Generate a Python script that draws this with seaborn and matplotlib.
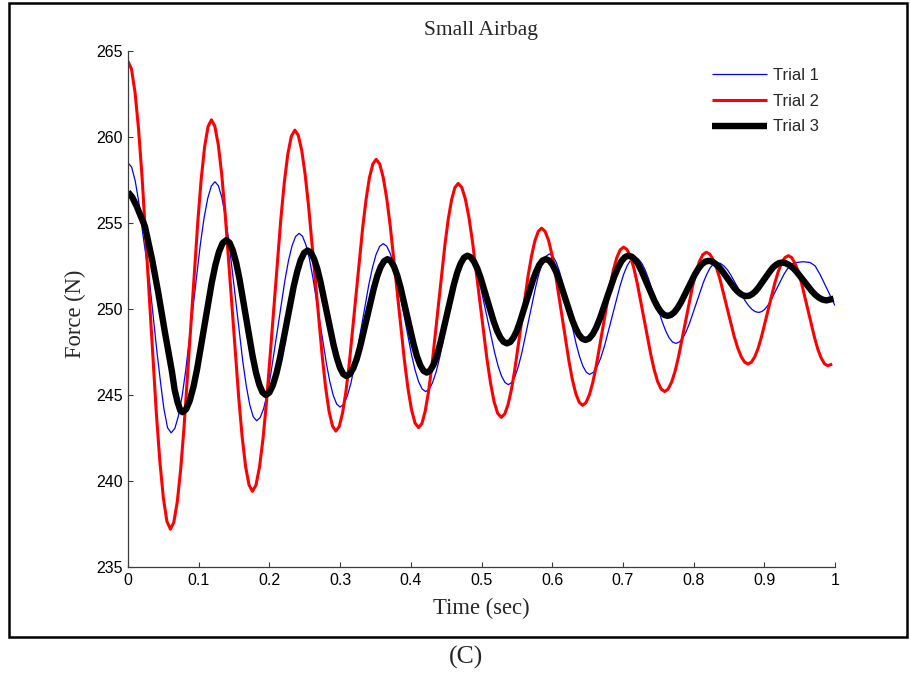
import matplotlib
matplotlib.use("Agg")
import matplotlib.pyplot as plt
from matplotlib.patches import Rectangle
import pandas as pd
import seaborn as sns

# ---- measured force traces (time in s, force in N) ----
time_trial1 = [
    0.000, 0.0051, 0.0102, 0.0153, 0.0203, 0.0305, 0.0407, 0.0458, 0.0508, 0.0559,
    0.061, 0.0662, 0.0713, 0.0765, 0.0817, 0.092, 0.1023, 0.1075, 0.1127, 0.1178,
    0.123, 0.1279, 0.1328, 0.1378, 0.1427, 0.1525, 0.1623, 0.1673, 0.1722, 0.1771,
    0.182, 0.187, 0.192, 0.197, 0.202, 0.212, 0.222, 0.227, 0.232, 0.237,
    0.242, 0.2468, 0.2517, 0.2565, 0.2613, 0.271, 0.2807, 0.2855, 0.2903, 0.2952,
    0.300, 0.3051, 0.3102, 0.3153, 0.3203, 0.3305, 0.3407, 0.3458, 0.3508, 0.3559,
    0.361, 0.366, 0.371, 0.376, 0.381, 0.391, 0.401, 0.406, 0.411, 0.416,
    0.421, 0.4259, 0.4308, 0.4358, 0.4407, 0.4505, 0.4603, 0.4653, 0.4702, 0.4751,
    0.480, 0.4848, 0.4897, 0.4945, 0.4993, 0.509, 0.5187, 0.5235, 0.5283, 0.5332,
    0.538, 0.5428, 0.5477, 0.5525, 0.5573, 0.567, 0.5767, 0.5815, 0.5863, 0.5912,
    0.596, 0.6008, 0.6055, 0.6103, 0.615, 0.6245, 0.634, 0.6388, 0.6435, 0.6483,
    0.653, 0.6583, 0.6637, 0.669, 0.6743, 0.685, 0.6957, 0.701, 0.7063, 0.7117,
    0.717, 0.7218, 0.7267, 0.7315, 0.7363, 0.746, 0.7557, 0.7605, 0.7653, 0.7702,
    0.775, 0.7798, 0.7847, 0.7895, 0.7943, 0.804, 0.8137, 0.8185, 0.8233, 0.8282,
    0.833, 0.8379, 0.8428, 0.8478, 0.8527, 0.8625, 0.8723, 0.8773, 0.8822, 0.8871,
    0.892, 0.8964, 0.9008, 0.9053, 0.9097, 0.9185, 0.9273, 0.9318, 0.9362, 0.9406,
    0.945, 0.955, 0.965, 0.972, 0.979, 0.986, 0.993, 1.000,
]
force_trial1 = [
    258.5, 258.25, 257.45, 256.2, 254.57, 251.6, 247.6, 245.8, 244.2, 243.1,
    242.8, 243.05, 243.78, 244.93, 246.45, 250.1, 253.75, 255.27, 256.42, 257.15,
    257.4, 257.16, 256.47, 255.37, 253.92, 250.45, 246.97, 245.53, 244.43, 243.74,
    243.5, 243.69, 244.23, 245.09, 246.23, 248.95, 251.68, 252.81, 253.67, 254.21,
    254.4, 254.23, 253.72, 252.93, 251.87, 249.35, 246.82, 245.77, 244.98, 244.47,
    244.3, 244.46, 244.94, 245.69, 246.68, 249.05, 251.43, 252.41, 253.16, 253.64,
    253.8, 253.65, 253.22, 252.54, 251.65, 249.5, 247.35, 246.46, 245.78, 245.35,
    245.2, 245.33, 245.72, 246.34, 247.15, 249.1, 251.05, 251.86, 252.48, 252.87,
    253.0, 252.87, 252.5, 251.92, 251.15, 249.3, 247.45, 246.68, 246.1, 245.73,
    245.6, 245.73, 246.11, 246.71, 247.5, 249.4, 251.3, 252.09, 252.69, 253.07,
    253.2, 253.08, 252.73, 252.18, 251.45, 249.7, 247.95, 247.22, 246.67, 246.32,
    246.2, 246.32, 246.66, 247.19, 247.9, 249.6, 251.3, 252.01, 252.54, 252.88,
    253.0, 252.91, 252.66, 252.27, 251.75, 250.5, 249.25, 248.73, 248.33, 248.08,
    248.0, 248.08, 248.31, 248.69, 249.18, 250.35, 251.53, 252.01, 252.39, 252.62,
    252.7, 252.65, 252.51, 252.28, 251.97, 251.25, 250.52, 250.22, 249.99, 249.85,
    249.8, 249.85, 249.99, 250.22, 250.53, 251.25, 251.98, 252.28, 252.51, 252.65,
    252.7, 252.75, 252.7, 252.5, 252.0, 251.4, 250.8, 250.2,
]

time_trial2 = [
    0.000, 0.005, 0.010, 0.015, 0.020, 0.030, 0.040, 0.045, 0.050, 0.055,
    0.060, 0.0648, 0.0697, 0.0745, 0.0793, 0.089, 0.0987, 0.1035, 0.1083, 0.1132,
    0.118, 0.1228, 0.1277, 0.1325, 0.1373, 0.147, 0.1567, 0.1615, 0.1663, 0.1712,
    0.176, 0.181, 0.186, 0.191, 0.196, 0.206, 0.216, 0.221, 0.226, 0.231,
    0.236, 0.2408, 0.2457, 0.2505, 0.2553, 0.265, 0.2747, 0.2795, 0.2843, 0.2892,
    0.294, 0.2988, 0.3035, 0.3083, 0.313, 0.3225, 0.332, 0.3368, 0.3415, 0.3463,
    0.351, 0.356, 0.361, 0.366, 0.371, 0.381, 0.391, 0.396, 0.401, 0.406,
    0.411, 0.4157, 0.4203, 0.425, 0.4297, 0.439, 0.4483, 0.453, 0.4577, 0.4623,
    0.467, 0.4721, 0.4772, 0.4823, 0.4873, 0.4975, 0.5077, 0.5128, 0.5178, 0.5229,
    0.528, 0.5328, 0.5375, 0.5423, 0.547, 0.5565, 0.566, 0.5708, 0.5755, 0.5803,
    0.585, 0.5898, 0.5947, 0.5995, 0.6043, 0.614, 0.6237, 0.6285, 0.6333, 0.6382,
    0.643, 0.6478, 0.6527, 0.6575, 0.6623, 0.672, 0.6817, 0.6865, 0.6913, 0.6962,
    0.701, 0.7058, 0.7107, 0.7155, 0.7203, 0.730, 0.7397, 0.7445, 0.7493, 0.7542,
    0.759, 0.7639, 0.7688, 0.7738, 0.7787, 0.7885, 0.7983, 0.8033, 0.8082, 0.8131,
    0.818, 0.8229, 0.8278, 0.8328, 0.8377, 0.8475, 0.8573, 0.8623, 0.8672, 0.8721,
    0.877, 0.8818, 0.8865, 0.8913, 0.896, 0.9055, 0.915, 0.9198, 0.9245, 0.9293,
    0.934, 0.9387, 0.9433, 0.948, 0.9527, 0.962, 0.9713, 0.976, 0.9807, 0.9853,
    0.990, 0.996,
]
force_trial2 = [
    264.4, 263.94, 262.58, 260.43, 257.6, 250.8, 244.0, 241.17, 239.02, 237.66,
    237.2, 237.6, 238.79, 240.67, 243.15, 249.1, 255.05, 257.53, 259.41, 260.6,
    261.0, 260.63, 259.55, 257.85, 255.6, 250.2, 244.8, 242.55, 240.85, 239.77,
    239.4, 239.76, 240.81, 242.47, 244.65, 249.9, 255.15, 257.33, 258.99, 260.04,
    260.4, 260.1, 259.23, 257.84, 256.02, 251.65, 247.27, 245.45, 244.07, 243.2,
    242.9, 243.17, 243.96, 245.21, 246.85, 250.8, 254.75, 256.39, 257.64, 258.43,
    258.7, 258.43, 257.65, 256.42, 254.8, 250.9, 247.0, 245.38, 244.15, 243.37,
    243.1, 243.34, 244.05, 245.17, 246.65, 250.2, 253.75, 255.23, 256.35, 257.06,
    257.3, 257.07, 256.39, 255.31, 253.9, 250.5, 247.1, 245.69, 244.61, 243.93,
    243.7, 243.89, 244.44, 245.31, 246.45, 249.2, 251.95, 253.09, 253.96, 254.51,
    254.7, 254.52, 254.01, 253.2, 252.12, 249.55, 246.97, 245.9, 245.09, 244.58,
    244.4, 244.56, 245.02, 245.74, 246.7, 249.0, 251.3, 252.26, 252.98, 253.44,
    253.6, 253.46, 253.04, 252.37, 251.5, 249.4, 247.3, 246.43, 245.76, 245.34,
    245.2, 245.34, 245.74, 246.38, 247.23, 249.25, 251.28, 252.12, 252.76, 253.16,
    253.3, 253.19, 252.86, 252.35, 251.67, 250.05, 248.42, 247.75, 247.24, 246.91,
    246.8, 246.91, 247.22, 247.72, 248.38, 249.95, 251.53, 252.18, 252.68, 252.99,
    253.1, 252.99, 252.67, 252.17, 251.5, 249.9, 248.3, 247.63, 247.13, 246.81,
    246.7, 246.8,
]

time_trial3 = [
    0.000, 0.006, 0.012, 0.024, 0.034, 0.043, 0.052, 0.062, 0.066, 0.070, 0.074,
    0.077, 0.0822, 0.0873, 0.0925, 0.0977, 0.108, 0.1183, 0.1235, 0.1287, 0.1338,
    0.139, 0.1437, 0.1483, 0.153, 0.1577, 0.167, 0.1763, 0.181, 0.1857, 0.1903,
    0.195, 0.1999, 0.2048, 0.2098, 0.2147, 0.2245, 0.2343, 0.2393, 0.2442, 0.2491,
    0.254, 0.2586, 0.2632, 0.2678, 0.2723, 0.2815, 0.2907, 0.2953, 0.2998, 0.3044,
    0.309, 0.3138, 0.3187, 0.3235, 0.3283, 0.338, 0.3477, 0.3525, 0.3573, 0.3622,
    0.367, 0.3716, 0.3763, 0.3809, 0.3855, 0.3948, 0.404, 0.4086, 0.4133, 0.4179,
    0.4225, 0.4273, 0.4321, 0.4369, 0.4417, 0.4513, 0.4608, 0.4656, 0.4704, 0.4752,
    0.480, 0.4847, 0.4893, 0.494, 0.4987, 0.508, 0.5173, 0.522, 0.5267, 0.5313,
    0.536, 0.5406, 0.5452, 0.5498, 0.5543, 0.5635, 0.5727, 0.5773, 0.5818, 0.5864,
    0.591, 0.5957, 0.6003, 0.605, 0.6097, 0.619, 0.6283, 0.633, 0.6377, 0.6423,
    0.647, 0.6521, 0.6572, 0.6623, 0.6673, 0.6775, 0.6877, 0.6928, 0.6978, 0.7029,
    0.708, 0.7126, 0.7172, 0.7218, 0.7263, 0.7355, 0.7447, 0.7493, 0.7538, 0.7584,
    0.763, 0.7678, 0.7727, 0.7775, 0.7823, 0.792, 0.8017, 0.8065, 0.8113, 0.8162,
    0.821, 0.8255, 0.830, 0.8345, 0.839, 0.848, 0.857, 0.8615, 0.866, 0.8705,
    0.875, 0.8792, 0.8833, 0.8875, 0.8917, 0.900, 0.9083, 0.9125, 0.9167, 0.9208,
    0.925, 0.9303, 0.9355, 0.9408, 0.946, 0.9565, 0.967, 0.9723, 0.9775, 0.9828,
    0.988, 0.998,
]
force_trial3 = [
    256.8, 256.5, 256.0, 254.8, 252.9, 250.9, 248.7, 246.4, 245.3, 244.6, 244.1,
    244.0, 244.17, 244.67, 245.46, 246.5, 249.0, 251.5, 252.54, 253.33, 253.83,
    254.0, 253.85, 253.4, 252.69, 251.75, 249.5, 247.25, 246.31, 245.6, 245.15,
    245.0, 245.14, 245.56, 246.23, 247.1, 249.2, 251.3, 252.17, 252.84, 253.26,
    253.4, 253.28, 252.91, 252.33, 251.57, 249.75, 247.92, 247.17, 246.59, 246.22,
    246.1, 246.22, 246.56, 247.09, 247.8, 249.5, 251.2, 251.91, 252.44, 252.78,
    252.9, 252.79, 252.46, 251.94, 251.25, 249.6, 247.95, 247.26, 246.74, 246.41,
    246.3, 246.42, 246.76, 247.29, 248.0, 249.7, 251.4, 252.11, 252.64, 252.98,
    253.1, 253.01, 252.76, 252.36, 251.82, 250.55, 249.27, 248.74, 248.34, 248.09,
    248.0, 248.08, 248.33, 248.72, 249.23, 250.45, 251.68, 252.18, 252.57, 252.82,
    252.9, 252.82, 252.59, 252.21, 251.72, 250.55, 249.37, 248.89, 248.51, 248.28,
    248.2, 248.28, 248.53, 248.92, 249.43, 250.65, 251.88, 252.38, 252.77, 253.02,
    253.1, 253.04, 252.87, 252.59, 252.22, 251.35, 250.47, 250.11, 249.83, 249.66,
    249.6, 249.65, 249.81, 250.07, 250.4, 251.2, 252.0, 252.33, 252.59, 252.75,
    252.8, 252.77, 252.66, 252.5, 252.29, 251.77, 251.26, 251.05, 250.89, 250.78,
    250.75, 250.78, 250.88, 251.03, 251.24, 251.73, 252.21, 252.42, 252.57, 252.67,
    252.7, 252.66, 252.55, 252.38, 252.15, 251.6, 251.05, 250.82, 250.65, 250.54,
    250.5, 250.6,
]

trial_names = ["Trial 1", "Trial 2", "Trial 3"]
x_ticks = [0, 0.1, 0.2, 0.3, 0.4, 0.5, 0.6, 0.7, 0.8, 0.9, 1]
x_tick_labels = ["0", "0.1", "0.2", "0.3", "0.4", "0.5", "0.6", "0.7", "0.8", "0.9", "1"]
y_ticks = [235, 240, 245, 250, 255, 260, 265]

frames = []
for name, t, f in zip(trial_names,
                      [time_trial1, time_trial2, time_trial3],
                      [force_trial1, force_trial2, force_trial3]):
    frames.append(pd.DataFrame({"time": t, "force": f, "trial": name}))
data = pd.concat(frames, ignore_index=True)

styles = {
    "Trial 1": dict(color="#0000ff", linewidth=0.9),
    "Trial 2": dict(color="#ff0000", linewidth=2.2),
    "Trial 3": dict(color="#000000", linewidth=4.6),
}

sns.set_style("white")
plt.rcParams["font.family"] = ["Liberation Sans", "DejaVu Sans"]
serif = ["Liberation Serif", "DejaVu Serif"]

fig = plt.figure(figsize=(9.1, 6.75), dpi=100)
ax = fig.add_axes([128 / 910, 1 - 567 / 675, 707 / 910, 516 / 675])

for name in trial_names:
    sns.lineplot(data=data[data["trial"] == name], x="time", y="force",
                 estimator=None, sort=False, ax=ax, label=name,
                 solid_joinstyle="round", solid_capstyle="butt", **styles[name])

ax.set_xlim(0, 1)
ax.set_ylim(235, 265)
ax.set_xticks(x_ticks)
ax.set_xticklabels(x_tick_labels)
ax.set_yticks(y_ticks)

for side in ["top", "right"]:
    ax.spines[side].set_visible(False)
for side in ["left", "bottom"]:
    ax.spines[side].set_color("#3c3c3c")
    ax.spines[side].set_linewidth(0.9)
ax.tick_params(bottom=True, left=True, top=False, right=False,
               direction="in", length=3.5, width=0.8, color="#3c3c3c",
               labelsize=11.5, labelcolor="black", pad=4)

ax.set_xlabel("Time (sec)", fontsize=16.3, family=serif)
ax.set_ylabel("Force (N)", fontsize=16.3, family=serif)
ax.xaxis.set_label_coords(0.5, (567 - 598) / 516)
ax.yaxis.set_label_coords((86 - 128) / 707, (567 - 314) / 516)

fig.text(481 / 910, 1 - 31 / 675, "Small Airbag", ha="center", va="center",
         fontsize=15.5, family=serif)
fig.text(466 / 910, 1 - 657 / 675, "(C)", ha="center", va="center",
         fontsize=18.5, family=serif)

leg = ax.legend(loc="upper left", bbox_to_anchor=(712 / 910, 1 - 68 / 675),
                bbox_transform=fig.transFigure, frameon=False, fontsize=12,
                handlelength=3.3, handletextpad=0.35, labelspacing=0.64,
                borderpad=0, borderaxespad=0)

fig.add_artist(Rectangle((9 / 910, 1 - 637 / 675), 898 / 910, 634 / 675,
                         transform=fig.transFigure, fill=False,
                         edgecolor="black", linewidth=1.8))

fig.savefig("out.png", dpi=100)
